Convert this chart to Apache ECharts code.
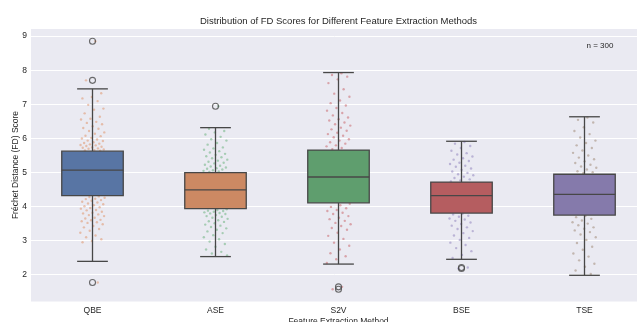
<!DOCTYPE html>
<html>
<head>
<meta charset="utf-8">
<script src="https://cdn.jsdelivr.net/npm/echarts@6/dist/echarts.min.js"></script>
<style>
  html, body { margin: 0; padding: 0; background: #fff; }
  #main { width: 637px; height: 322px; }
</style>
</head>
<body>
<div id="main"></div>
<script>
const methods = ['QBE', 'ASE', 'S2V', 'BSE', 'TSE'];
const yTicks = [2, 3, 4, 5, 6, 7, 8, 9];

// lower whisker, Q1, median, Q3, upper whisker
const boxStats = [
  [2.38, 4.31, 5.06, 5.62, 7.45],
  [2.52, 3.93, 4.48, 4.99, 6.31],
  [2.30, 4.10, 4.86, 5.65, 7.93],
  [2.44, 3.80, 4.31, 4.71, 5.91],
  [1.97, 3.74, 4.35, 4.94, 6.63]
];

// [method index, value]
const outliers = [
  [0, 8.85], [0, 7.70], [0, 1.76],
  [1, 6.94],
  [2, 1.63], [2, 1.56],
  [3, 2.20], [3, 2.17]
];

// individual scores (jittered strip)
const qbeScores = [
  8.85, 7.70, 7.32, 7.21, 7.17, 7.09, 6.98, 6.87, 6.84, 6.73, 6.63, 6.57, 6.55, 6.48, 6.45,
  6.41, 6.35, 6.30, 6.28, 6.21, 6.17, 6.13, 6.07, 6.06, 6.01, 5.99, 5.96, 5.93, 5.92, 5.88,
  5.86, 5.84, 5.82, 5.80, 5.79, 5.77, 5.75, 5.73, 5.72, 5.70, 5.69, 5.67, 5.65, 5.64, 5.63,
  5.50, 5.31, 5.12, 4.95, 4.78, 4.60, 4.45,
  4.29, 4.27, 4.25, 4.22, 4.21, 4.18, 4.16, 4.13, 4.11, 4.08, 4.06, 4.03, 4.00, 3.97, 3.95,
  3.93, 3.89, 3.88, 3.84, 3.81, 3.79, 3.76, 3.74, 3.71, 3.66, 3.64, 3.60, 3.59, 3.56, 3.53,
  3.51, 3.47, 3.42, 3.38, 3.33, 3.28, 3.22, 3.14, 3.09, 3.03, 2.98, 2.94, 1.76
];
const aseScores = [
  6.94, 6.28, 6.21, 6.17, 6.11, 6.04, 5.97, 5.93, 5.86, 5.81, 5.73, 5.70, 5.66, 5.62, 5.58,
  5.54, 5.51, 5.47, 5.44, 5.41, 5.37, 5.34, 5.31, 5.28, 5.26, 5.22, 5.19, 5.17, 5.14, 5.12,
  5.10, 5.08, 5.06, 5.04, 5.02, 5.01,
  4.85, 4.66, 4.41, 4.20, 4.05,
  3.91, 3.89, 3.87, 3.86, 3.84, 3.82, 3.80, 3.79, 3.77, 3.74, 3.71, 3.69, 3.66, 3.63, 3.59,
  3.56, 3.54, 3.50, 3.46, 3.43, 3.39, 3.35, 3.31, 3.26, 3.21, 3.15, 3.09, 3.03, 2.96, 2.89,
  2.81, 2.73, 2.66, 2.61, 2.55
];
const s2vScores = [
  7.91, 7.86, 7.81, 7.73, 7.62, 7.44, 7.31, 7.22, 7.11, 7.03, 6.96, 6.89, 6.81, 6.74, 6.67,
  6.61, 6.56, 6.52, 6.46, 6.41, 6.37, 6.31, 6.26, 6.22, 6.16, 6.12, 6.07, 6.03, 5.97, 5.93,
  5.88, 5.84, 5.79, 5.76, 5.71, 5.68,
  5.42, 5.13, 4.88, 4.61, 4.33,
  4.07, 4.03, 3.98, 3.94, 3.89, 3.86, 3.81, 3.77, 3.71, 3.66, 3.62, 3.57, 3.51, 3.47, 3.42,
  3.36, 3.31, 3.22, 3.13, 3.04, 2.93, 2.84, 2.73, 2.62, 2.53, 2.44, 2.33, 1.63, 1.56
];
const bseScores = [
  5.89, 5.84, 5.77, 5.71, 5.63, 5.56, 5.52, 5.46, 5.41, 5.37, 5.33, 5.28, 5.24, 5.19, 5.16,
  5.11, 5.07, 5.02, 4.98, 4.94, 4.91, 4.87, 4.83, 4.79, 4.76, 4.73,
  4.55, 4.30, 4.02,
  3.78, 3.76, 3.72, 3.69, 3.64, 3.61, 3.57, 3.52, 3.48, 3.43, 3.38, 3.33, 3.27, 3.21, 3.14,
  3.07, 3.01, 2.93, 2.86, 2.77, 2.68, 2.57, 2.48, 2.20, 2.17
];
const tseScores = [
  6.61, 6.54, 6.46, 6.32, 6.21, 6.12, 6.02, 5.93, 5.86, 5.79, 5.71, 5.64, 5.57, 5.49, 5.43,
  5.38, 5.32, 5.27, 5.22, 5.17, 5.13, 5.08, 5.03, 5.00, 4.97,
  4.71, 4.44, 4.12, 3.88,
  3.72, 3.68, 3.63, 3.58, 3.53, 3.49, 3.44, 3.38, 3.34, 3.29, 3.24, 3.17, 3.09, 3.01, 2.92,
  2.81, 2.72, 2.61, 2.52, 2.41, 2.31, 2.22, 2.11, 2.01
];
const scoreLists = [qbeScores, aseScores, s2vScores, bseScores, tseScores];

const boxColors = ['#5875A4', '#CC8963', '#5F9E6E', '#B55D60', '#857AAB'];
const dotColors = ['#DD8452', '#55A868', '#C44E52', '#8172B3', '#937860'];
const lineColor = '#474747';
const font = '"Liberation Sans", Arial, sans-serif';

// horizontal jitter (position only), deterministic low-discrepancy spread of +-0.1
function jitter(k) {
  return (((k + 1) * 0.6180339887) % 1 - 0.5) * 0.2;
}

const stripSeries = scoreLists.map((list, ci) => ({
  type: 'scatter',
  xAxisIndex: 1,
  symbolSize: 2.4,
  z: 1,
  silent: true,
  itemStyle: { color: dotColors[ci], opacity: 0.45 },
  data: list.map((v, k) => [ci + jitter(k), v])
}));

const chart = echarts.init(document.getElementById('main'));

chart.setOption({
  animation: false,
  backgroundColor: '#fff',
  textStyle: { fontFamily: font },
  grid: {
    left: 31, right: -9, top: 29, bottom: 20.5,
    containLabel: false,
    outerBoundsMode: 'none',
    show: true, backgroundColor: '#EAEAF2', borderWidth: 0
  },
  xAxis: [{
    type: 'category',
    data: methods,
    axisLine: { show: false },
    axisTick: { show: false },
    axisLabel: { color: '#262626', fontSize: 8.5, margin: 5, fontFamily: font }
  }, {
    type: 'value',
    min: -0.5, max: 4.5,
    show: false
  }],
  yAxis: {
    type: 'value',
    min: 1.2, max: 9.21,
    axisLine: { show: false },
    axisTick: { show: false, customValues: yTicks },
    axisLabel: {
      color: '#262626', fontSize: 8.5, margin: 4, fontFamily: font,
      customValues: yTicks
    },
    splitLine: { lineStyle: { color: '#fff', width: 1 } }
  },
  graphic: [{
    type: 'text', x: 338.5, y: 21,
    style: { text: 'Distribution of FD Scores for Different Feature Extraction Methods',
      fill: '#262626', font: '9.5px ' + font, textAlign: 'center', textVerticalAlign: 'middle' }
  }, {
    type: 'text', x: 600, y: 46,
    style: { text: 'n = 300', fill: '#262626', font: '8px ' + font,
      textAlign: 'center', textVerticalAlign: 'middle' }
  }, {
    type: 'text', x: 338.5, y: 321.5,
    style: { text: 'Feature Extraction Method', fill: '#262626', font: '8.5px ' + font,
      textAlign: 'center', textVerticalAlign: 'middle' }
  }, {
    type: 'text', x: 16, y: 165, rotation: Math.PI / 2,
    style: { text: 'Fréchet Distance (FD) Score', fill: '#262626', font: '8.5px ' + font,
      textAlign: 'center', textVerticalAlign: 'middle' }
  }],
  series: stripSeries.concat([{
    type: 'custom',
    z: 3,
    silent: true,
    encode: { x: 0, y: [1, 2, 3, 4, 5] },
    data: boxStats.map((s, i) => [i].concat(s)),
    renderItem: function (params, api) {
      const i = api.value(0);
      const lo = api.coord([i, api.value(1)]);
      const q1 = api.coord([i, api.value(2)]);
      const med = api.coord([i, api.value(3)]);
      const q3 = api.coord([i, api.value(4)]);
      const hi = api.coord([i, api.value(5)]);
      const bw = api.size([1, 0])[0];
      const half = bw * 0.25;
      const cap = bw * 0.125;
      const x = lo[0];
      const ls = { stroke: lineColor, lineWidth: 1.3 };
      return {
        type: 'group',
        children: [
          { type: 'line', shape: { x1: x, y1: q3[1], x2: x, y2: hi[1] }, style: ls },
          { type: 'line', shape: { x1: x, y1: q1[1], x2: x, y2: lo[1] }, style: ls },
          { type: 'line', shape: { x1: x - cap, y1: hi[1], x2: x + cap, y2: hi[1] }, style: ls },
          { type: 'line', shape: { x1: x - cap, y1: lo[1], x2: x + cap, y2: lo[1] }, style: ls },
          { type: 'rect', shape: { x: x - half, y: q3[1], width: 2 * half, height: q1[1] - q3[1] },
            style: { fill: boxColors[params.dataIndex], stroke: lineColor, lineWidth: 1.3 } },
          { type: 'line', shape: { x1: x - half, y1: med[1], x2: x + half, y2: med[1] }, style: ls }
        ]
      };
    }
  }, {
    type: 'scatter',
    xAxisIndex: 1,
    z: 4,
    silent: true,
    symbol: 'circle',
    symbolSize: 6,
    itemStyle: { color: 'rgba(0,0,0,0)', borderColor: lineColor, borderWidth: 1.1 },
    data: outliers
  }])
});
</script>
</body>
</html>
